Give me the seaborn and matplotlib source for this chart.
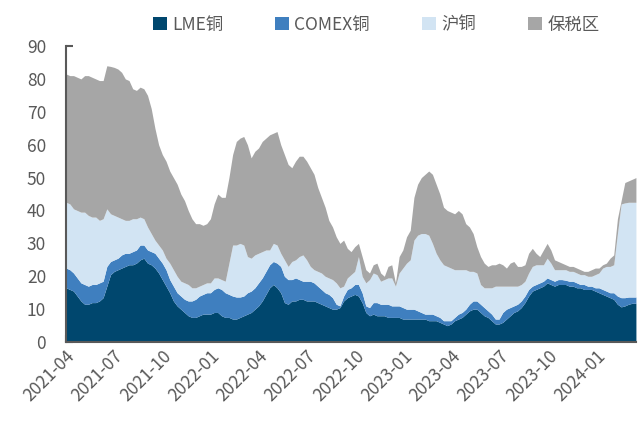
import numpy as np
import pandas as pd
import seaborn as sns
import matplotlib.pyplot as plt
import matplotlib.dates as mdates

# weekly copper stocks (10k t)
dates = pd.date_range("2021-04-02", periods=155, freq="7D")

lme = [16.5, 16, 15.5, 14, 12.5, 11.5, 11.5, 12, 12, 12.5,
       13.5, 17, 20.5, 21.5, 22, 22.5, 23, 23.5, 23.5, 24,
       25, 25.5, 24, 23.5, 22.5, 21, 19, 17, 15, 12.5,
       11, 10, 9, 8, 7.5, 7.5, 8, 8.5, 8.5, 8.5,
       9, 9, 8, 7.5, 7.5, 7, 7, 7.5, 8, 8.5,
       9, 10, 11, 12.5, 14.5, 16.5, 17.5, 16.5, 15, 12,
       11.5, 12.5, 12.5, 13, 13, 12.5, 12.5, 12.5, 12, 11.5,
       11, 10.5, 10, 10, 10.5, 12.5, 13.5, 14, 14.5, 14,
       12, 9, 8, 8.5, 8, 8, 8, 7.5, 7.5, 7.5,
       7.5, 7, 7, 7, 7, 7, 7, 7, 6.5, 6.5,
       6.5, 6, 5.5, 5, 5.5, 6.5, 7, 7.5, 8.5, 9.5,
       10, 10, 9, 8, 7.5, 6.5, 5.5, 5.5, 6, 7,
       8, 9, 9.5, 10.5, 12, 14, 15.5, 16, 16.5, 17,
       18, 17.5, 17, 17.5, 17.5, 17.5, 17, 17, 16.5, 16.5,
       16, 16, 16, 15.5, 15, 14.5, 14, 13.5, 13, 11.5,
       10.7, 11, 11.5, 11.8, 11.8]

comex = [6, 6, 5.5, 5.5, 5.5, 6, 5.5, 5.5, 5.5, 5.5,
         5, 6, 4, 3.5, 3.5, 4, 4, 3.5, 4, 4,
         4.5, 4, 4, 4, 4.5, 4.5, 5, 5, 4, 4.5,
         4, 4, 4, 4.5, 5, 5.5, 6, 6, 6.5, 6.5,
         7, 7.5, 8, 7.5, 7, 7, 6.7, 6.2, 6, 6.5,
         6.5, 6.5, 7, 7, 7, 7, 7, 7.5, 8, 8,
         7.5, 6.5, 7, 6, 5.5, 6, 6, 5.5, 5, 4.5,
         4, 4, 3.5, 1.5, 0.5, 1.5, 2.5, 2.5, 3, 3.5,
         3, 2, 2.5, 3.5, 4, 3.5, 3.5, 4, 3.5, 3.5,
         3.5, 3.5, 3, 3, 3, 2.5, 2, 1.5, 2, 2,
         1.5, 1.5, 1, 1.5, 1, 1, 1.5, 1.5, 1.5, 2,
         2.5, 2.5, 2.5, 2.5, 2, 2, 1.5, 1.5, 3, 3,
         2.5, 2, 2, 2, 2, 2, 1.5, 1.5, 1.5, 1.5,
         1.5, 1.5, 1.5, 1.5, 1.5, 1.3, 1.5, 1.5, 1.5, 1,
         1.5, 1, 1, 1, 1.5, 1.5, 1.5, 1.5, 2, 2.5,
         2.8, 2.5, 2.2, 1.9, 1.9]

shfe = [20, 20, 19.5, 20.5, 21.5, 22, 21.5, 20.5, 20.5, 19,
        19, 17.5, 14.5, 13.5, 12.5, 11, 10, 10, 10, 9.5,
        8.5, 8, 7, 5.5, 4, 4, 4, 3.5, 5, 5,
        5, 4.5, 5, 5, 4, 3.5, 3, 3, 3, 3,
        3.5, 3, 3, 3.5, 9.5, 15.5, 15.8, 16.3, 15.5, 11,
        10, 10, 9, 8, 6.5, 4.5, 5.5, 5.5, 4, 5,
        4, 5.5, 5.5, 7, 8, 6.5, 4.5, 4, 4.5, 5,
        5, 5, 5.5, 6.5, 5.5, 3, 3.5, 4, 4, 8.5,
        5, 7, 8.5, 9, 8.5, 7, 7.5, 8, 8.5, 6,
        10, 12, 14, 15, 21, 23, 24, 24.5, 24, 21.5,
        19, 17.5, 17, 16.5, 16, 14.5, 13.5, 13, 12, 10,
        9, 8.5, 6, 6, 7, 8, 10, 10, 8, 7,
        6.5, 6, 5.5, 5, 4.5, 5, 6, 6, 5.5, 5,
        6, 5, 3.5, 3, 3, 3.2, 3, 3, 3, 3,
        3, 3, 3, 4, 4.5, 6.5, 7.5, 8, 8.5, 19,
        28.5, 28.8, 28.8, 28.8, 28.8]

bonded = [39, 39, 40.5, 40.5, 40.5, 41.5, 42.5, 42.5, 42, 42.5,
          42, 43.5, 44.8, 45, 45, 44.5, 43, 42.5, 39.5, 39,
          39.5, 39.5, 40, 38, 34, 30.5, 29, 29.5, 28, 28,
          28, 26.5, 25, 22.5, 21, 19.5, 19, 18, 18, 19.5,
          22.5, 25.5, 25, 25.5, 26, 27.5, 31.5, 32, 33, 34,
          30.5, 31.5, 32, 33.5, 34, 35, 33.5, 34.5, 33, 32,
          31, 28.5, 30, 30.5, 30, 30, 30, 29, 25.5, 23,
          21, 17.5, 16, 14, 13.5, 14, 9, 7, 7.5, 4,
          6, 4, 2, 2.5, 3.5, 2.5, 1, 3.5, 4, 1,
          5, 5.5, 8, 9, 13, 15.5, 17, 18, 19.5, 21,
          21, 20, 17.5, 17, 17, 17, 18, 17, 14, 13.5,
          11.5, 8, 8.5, 7.5, 6.5, 7, 6.5, 7, 6.5, 5.5,
          7, 7.5, 6, 5.5, 5, 6, 5.5, 3.5, 2.5, 4.5,
          4.5, 4, 3, 2.5, 2, 1.5, 1.5, 1.5, 1.5, 1.5,
          1, 1.5, 2, 2, 1.5, 1, 1, 2.5, 3, 4.5,
          1, 6.2, 6.5, 7, 7.5]

labels = ["LME铜", "COMEX铜", "沪铜", "保税区"]
colors = ["#00476E", "#3F7FBF", "#D2E4F3", "#A6A6A6"]

df = pd.DataFrame({"date": dates, labels[0]: lme, labels[1]: comex,
                   labels[2]: shfe, labels[3]: bonded})

sns.set_theme(style="ticks")
plt.rcParams['font.family'] = ['Noto Sans CJK SC', 'DejaVu Sans']

grey = "#595959"
fig, ax = plt.subplots(figsize=(6.43, 4.26), dpi=100)
fig.subplots_adjust(left=0.102, right=0.989, bottom=0.197, top=0.892)

ax.stackplot(df["date"], [df[c] for c in labels], labels=labels,
             colors=colors, linewidth=0)

ax.set_ylim(0, 90)
ax.set_yticks(range(0, 91, 10))
ax.set_xlim(pd.Timestamp("2021-04-01"), df["date"].iloc[-1])
ax.set_xticks(pd.date_range("2021-04-01", "2024-01-01", freq="QS"))
ax.xaxis.set_major_formatter(mdates.DateFormatter("%Y-%m"))
plt.setp(ax.get_xticklabels(), rotation=45, ha="right", rotation_mode="anchor")

ax.tick_params(axis="both", direction="in", length=5, width=1.5, color=grey,
               labelcolor=grey, labelsize=12.5)
ax.tick_params(axis="y", pad=14)
for side in ["left", "bottom"]:
    ax.spines[side].set_color(grey)
    ax.spines[side].set_linewidth(1.5)
sns.despine(ax=ax)
ax.set_xlabel("")
ax.set_ylabel("")

fig.legend(loc="upper center", bbox_to_anchor=(0.585, 1.0), ncol=4,
           frameon=False, fontsize=12.5, labelcolor=grey, handlelength=0.8,
           handleheight=0.8, handletextpad=0.3, columnspacing=3.0)

plt.savefig("out.png")
